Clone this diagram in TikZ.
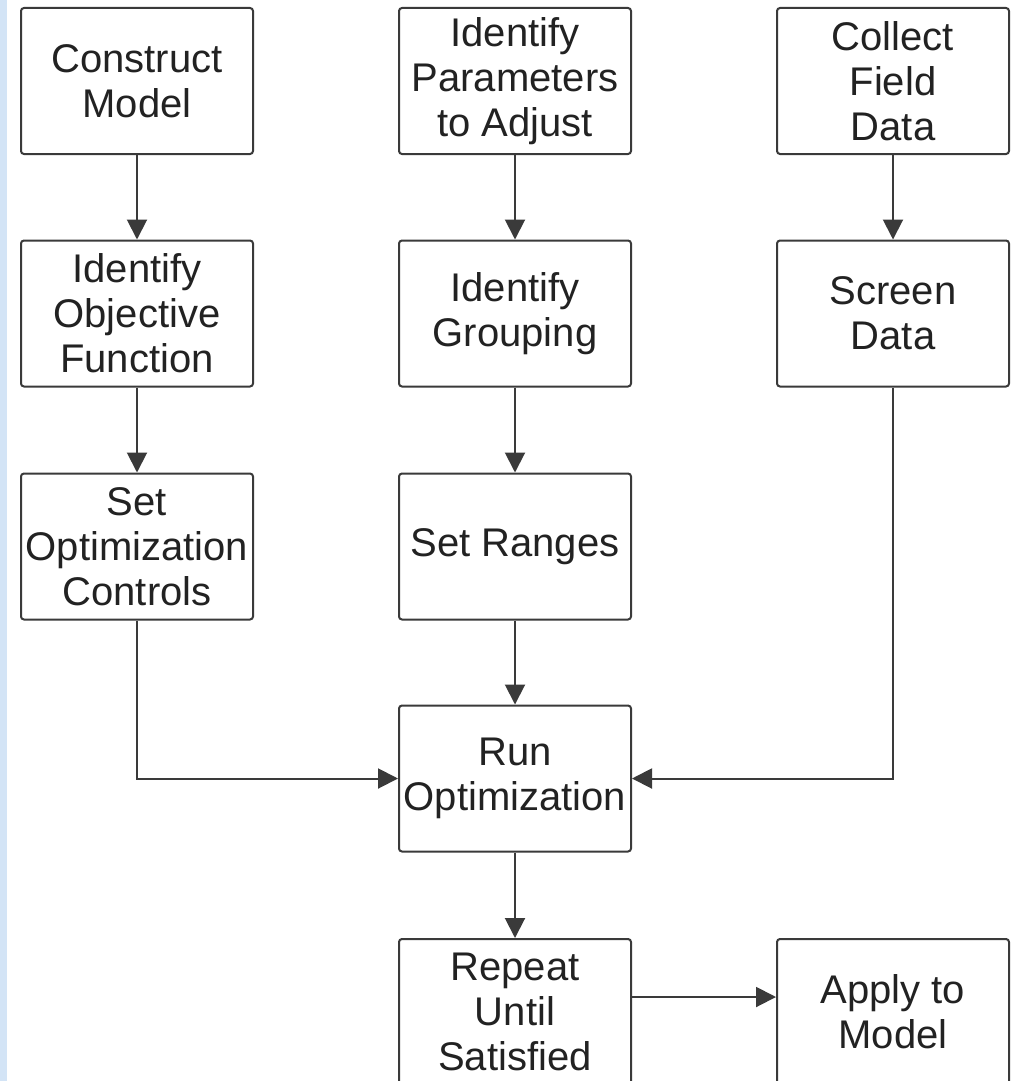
\documentclass[tikz,border=0pt]{standalone}
\usepackage{fontspec}
\setmainfont{Liberation Sans}
\usetikzlibrary{arrows.meta}
\definecolor{linegray}{HTML}{3A3A3A}
\definecolor{textgray}{HTML}{222222}
\definecolor{stripblue}{HTML}{D3E4F6}
\begin{document}
\begin{tikzpicture}[x=1pt,y=-1pt,
  stepbox/.style={draw=linegray, line width=2pt, rounded corners=3pt, fill=white,
    minimum width=232pt, minimum height=146pt, inner sep=0pt, align=center,
    text=textgray, font=\fontsize{40}{45}\selectfont},
  flow/.style={draw=linegray, line width=2pt, -{Triangle[length=20pt,width=20pt]}}]
  \useasboundingbox (0,0) rectangle (1011,1081);
  \fill[white] (0,0) rectangle (1011,1081);
  \fill[stripblue] (0,0) rectangle (7,1081);

  % left column
  \node[stepbox] (construct) at (137,81) {Construct\\Model};
  \node[stepbox] (objective) at (137,313.5) {Identify\\Objective\\Function};
  \node[stepbox] (controls)  at (137,546.5) {Set\\Optimization\\Controls};

  % middle column
  \node[stepbox] (params)   at (515,81) {Identify\\Parameters\\to Adjust};
  \node[stepbox] (grouping) at (515,313.5) {Identify\\Grouping};
  \node[stepbox] (ranges)   at (515,546.5) {Set Ranges};
  \node[stepbox] (run)      at (515,778.5) {Run\\Optimization};
  \node[stepbox] (repeat)   at (515,1012) {Repeat\\Until\\Satisfied};

  % right column
  \node[stepbox] (collect) at (893,81) {Collect\\Field\\Data};
  \node[stepbox] (screen)  at (893,313.5) {Screen\\Data};
  \node[stepbox] (apply)   at (893,1012) {Apply to\\Model};

  % connectors
  \draw[flow] (construct) -- (objective);
  \draw[flow] (objective) -- (controls);
  \draw[flow] (params) -- (grouping);
  \draw[flow] (grouping) -- (ranges);
  \draw[flow] (ranges) -- (run);
  \draw[flow] (collect) -- (screen);
  \draw[flow] (controls.south) |- (run.west);
  \draw[flow] (screen.south) |- (run.east);
  \draw[flow] (run) -- (repeat);
  \coordinate (repout) at ([yshift=15pt]repeat.east);
  \draw[flow] (repout) -- (repout -| apply.west);
\end{tikzpicture}
\end{document}
